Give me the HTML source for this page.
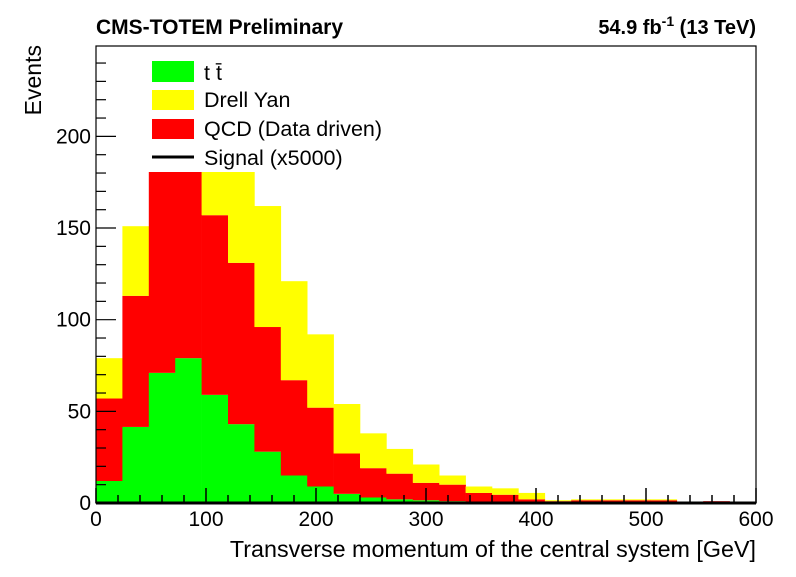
<!DOCTYPE html>
<html><head><meta charset="utf-8"><style>
body{margin:0;background:#fff}
svg text{font-family:"Liberation Sans",Arial,sans-serif}
</style></head><body>
<svg id="c" width="796" height="572" viewBox="0 0 796 572" xmlns="http://www.w3.org/2000/svg">
<g id="bars"></g>
<rect x="140" y="52" width="256" height="120" fill="#fff"/>
<g id="axes"></g>
<text x="96" y="34" font-size="21" font-weight="bold">CMS-TOTEM Preliminary</text>
<text x="756" y="34" font-size="20" font-weight="bold" text-anchor="end">54.9 fb<tspan dy="-8" font-size="14">-1</tspan><tspan dy="8"> (13 TeV)</tspan></text>
<text x="756" y="557" font-size="23.3" text-anchor="end">Transverse momentum of the central system [GeV]</text>
<text transform="translate(41,45) rotate(-90)" font-size="23" text-anchor="end">Events</text>
<g>
<rect x="152" y="61" width="42" height="21" fill="#00ff00"/>
<text x="204" y="80" font-size="21.5">t t&#772;</text>
<rect x="152" y="90" width="42" height="20" fill="#ffff00"/>
<text x="204" y="107" font-size="21.5">Drell Yan</text>
<rect x="152" y="119" width="42" height="20" fill="#ff0000"/>
<text x="204" y="136" font-size="21.5">QCD (Data driven)</text>
<line x1="152" y1="157" x2="194" y2="157" stroke="#000" stroke-width="3"/>
<text x="204" y="165" font-size="21.5">Signal (x5000)</text>
</g>
</svg>
<script>
const binWidth = 24;
const ttbar = [12,41.5,71,79,59,43,28,15,9,5,3,2,1.5,1,0.5,0.3,0,0,0,0,0,0,0,0,0];
const qcd = [45,71.5,120,112,98,88,68,52,43,22,16,14,9.5,9,5,4.2,2,1,1.5,1.5,1.5,1.5,0,1,0];
const dy = [22,38,0,10,35,50,66,54,40,27,19,13.5,10,5,3.5,3.5,3.5,0.5,0.5,0.5,0.5,0.5,0,0,0];
const xTicks = [0,100,200,300,400,500,600];
const yTicks = [0,50,100,150,200];
const X0=96,X1=756,Y0=503,YT=46,xMax=600,yMax=249.3;
const sx=v=>X0+(X1-X0)*v/xMax;
const sy=v=>Y0-(Y0-YT)*v/yMax;
const NS="http://www.w3.org/2000/svg";
const bars=document.getElementById('bars'), axes=document.getElementById('axes');
function mk(p,tag,attrs){const e=document.createElementNS(NS,tag);for(const k in attrs)e.setAttribute(k,attrs[k]);p.appendChild(e);return e;}
const series=[[ttbar,'#00ff00','ttbar'],[qcd,'#ff0000','qcd'],[dy,'#ffff00','drell-yan']];
for(let i=0;i<ttbar.length;i++){
  let base=0;
  for(const [arr,col,nm] of series){
    const v=arr[i]; if(v<=0){continue;}
    const top=Math.min(base+v,yMax), b=Math.min(base,yMax);
    const r=mk(bars,'rect',{x:sx(i*binWidth),y:sy(top),width:sx((i+1)*binWidth)-sx(i*binWidth)+0.3,height:sy(b)-sy(top),fill:col});
    
    
    base+=v;
  }
}
const fr=mk(axes,'rect',{x:X0,y:YT,width:X1-X0,height:Y0-YT,fill:'none',stroke:'#000','stroke-width':1.2});


mk(axes,'line',{x1:X0,y1:Y0,x2:X1,y2:Y0,stroke:'#000','stroke-width':3});
for(let v=0;v<=xMax;v+=20){const big=v%100===0;mk(axes,'line',{x1:sx(v),y1:Y0,x2:sx(v),y2:Y0-(big?15:8),stroke:'#000','stroke-width':1.5});}
for(let v=0;v<=240;v+=10){const big=v%50===0;mk(axes,'line',{x1:X0,y1:sy(v),x2:X0+(big?20:10),y2:sy(v),stroke:'#000','stroke-width':1.2});}
for(const t of xTicks){const e=mk(axes,'text',{x:sx(t),y:526,'font-size':21,'text-anchor':'middle'});e.textContent=t;

}
for(const t of yTicks){const e=mk(axes,'text',{x:91,y:sy(t)+7,'font-size':21,'text-anchor':'end'});e.textContent=t;

}
</script>
</body></html>
